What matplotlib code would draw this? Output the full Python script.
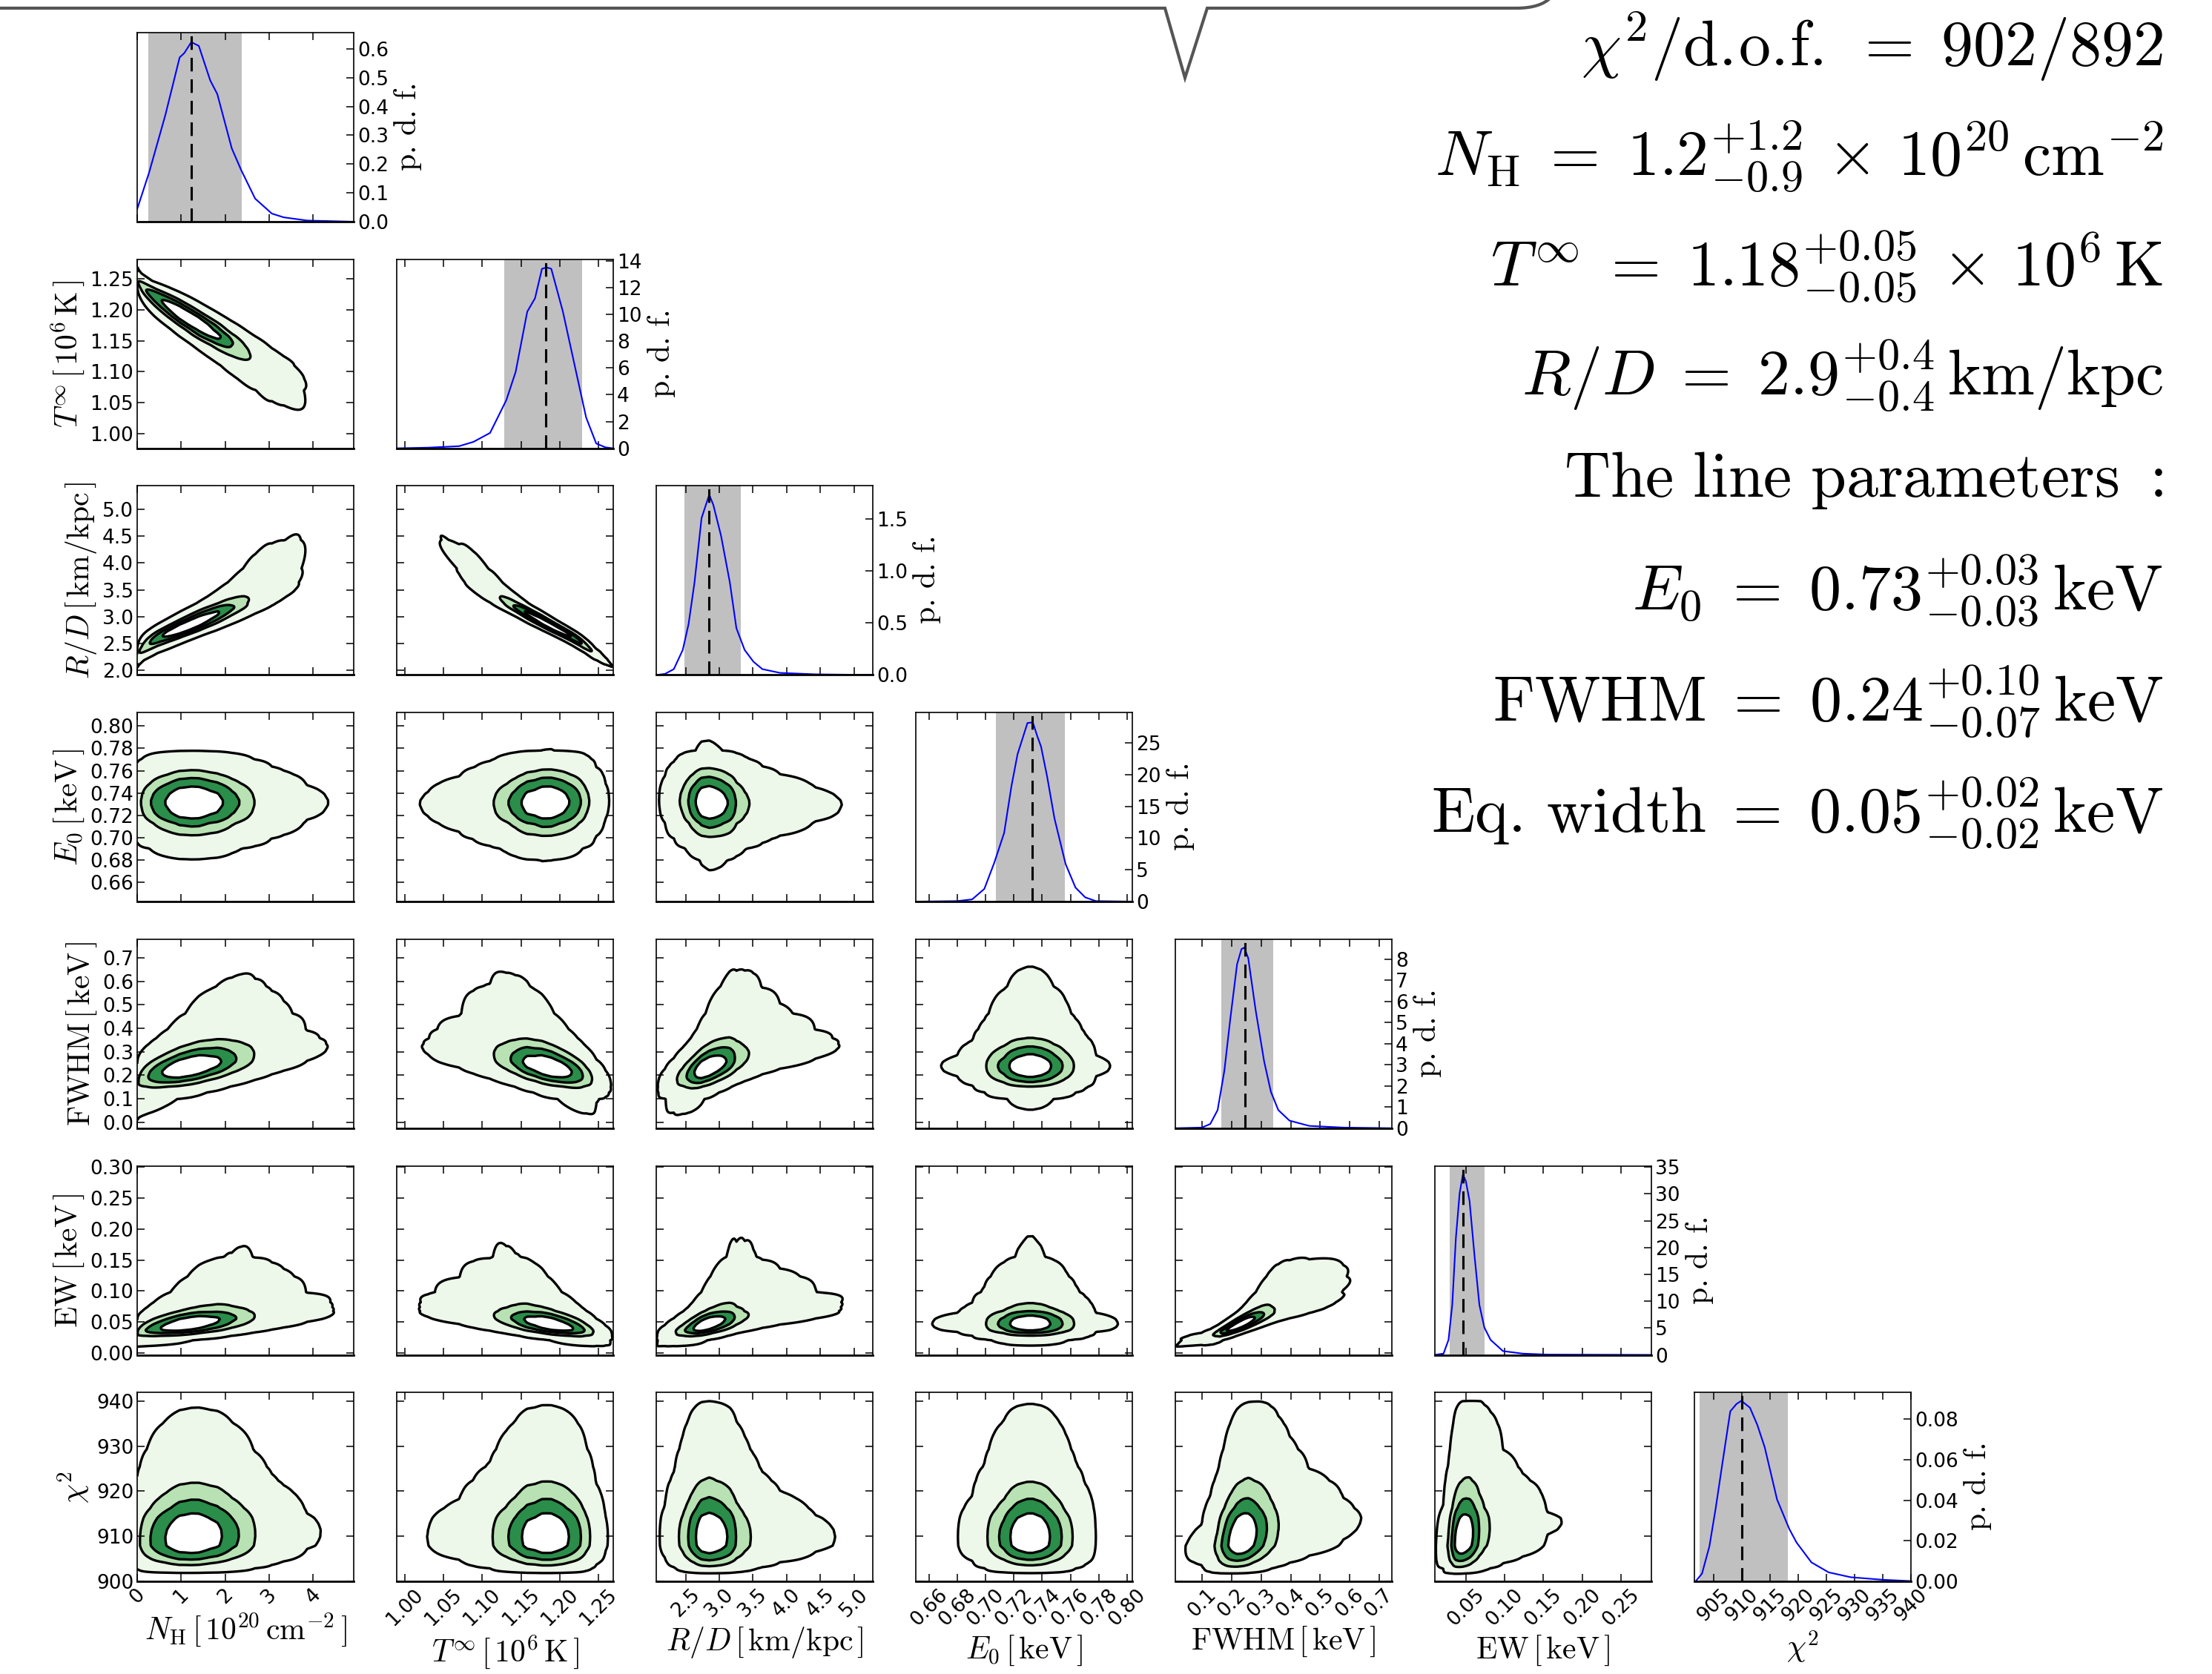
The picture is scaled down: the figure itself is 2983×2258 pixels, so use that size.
import numpy as np
import matplotlib
matplotlib.use('Agg')
import matplotlib.pyplot as plt
from matplotlib.path import Path
from matplotlib.patches import PathPatch

plt.rcParams['mathtext.fontset'] = 'cm'
plt.rcParams['font.family'] = 'DejaVu Sans'
plt.rcParams['xtick.direction'] = 'in'
plt.rcParams['ytick.direction'] = 'in'
plt.rcParams['xtick.major.size'] = 7
plt.rcParams['ytick.major.size'] = 7
plt.rcParams['xtick.major.width'] = 1.1
plt.rcParams['ytick.major.width'] = 1.1
plt.rcParams['xtick.labelsize'] = 19
plt.rcParams['ytick.labelsize'] = 19
plt.rcParams['axes.linewidth'] = 1.2

# ---- marginal posteriors ----
nh_x = [0.0, 0.27, 0.64, 0.965, 1.07, 1.23, 1.40, 1.66, 1.82, 2.15, 2.36, 2.68, 3.06, 3.33, 3.86, 4.9]
nh_pdf = [0.044, 0.17, 0.37, 0.57, 0.585, 0.623, 0.61, 0.49, 0.443, 0.254, 0.18, 0.08, 0.028, 0.015, 0.004, 0.0]

t_x = [0.9895, 1.030, 1.070, 1.0885, 1.110, 1.119, 1.131, 1.143, 1.158, 1.168, 1.177, 1.183,
       1.189, 1.204, 1.222, 1.234, 1.247, 1.259, 1.269]
t_pdf = [0.0, 0.05, 0.16, 0.48, 1.15, 2.2, 3.6, 5.7, 10.2, 11.2, 13.4, 13.5, 13.4, 10.2, 5.45,
         2.3, 0.36, 0.07, 0.0]

rd_x = [2.064, 2.193, 2.325, 2.457, 2.544, 2.632, 2.737, 2.851, 2.912, 3.026, 3.157, 3.254,
        3.377, 3.508, 3.64, 3.90, 4.43, 5.28]
rd_pdf = [0.0, 0.01, 0.056, 0.24, 0.49, 0.89, 1.51, 1.734, 1.635, 1.34, 0.89, 0.45, 0.24,
          0.127, 0.056, 0.02, 0.006, 0.0]

e0_x = [0.6506, 0.68, 0.6905, 0.6991, 0.7061, 0.7131, 0.7183, 0.7226, 0.7296, 0.7334, 0.7366,
        0.7392, 0.7435, 0.7487, 0.7566, 0.7636, 0.7705, 0.778, 0.8038]
e0_pdf = [0.0, 0.08, 0.35, 2.0, 6.1, 10.8, 18.2, 23.2, 28.1, 28.2, 26.0, 24.4, 19.7, 13.1, 5.9,
          2.2, 0.66, 0.08, 0.0]

fw_x = [0.0084, 0.0985, 0.127, 0.152, 0.175, 0.195, 0.218, 0.233, 0.2425, 0.256, 0.281, 0.31,
        0.333, 0.358, 0.396, 0.463, 0.579, 0.744]
fw_pdf = [0.0, 0.03, 0.2, 0.86, 2.73, 5.17, 7.76, 8.48, 8.55, 8.05, 5.6, 3.16, 1.72, 0.86,
          0.36, 0.11, 0.03, 0.0]

ew_x = [0.0101, 0.0213, 0.0277, 0.0325, 0.0372, 0.042, 0.0462, 0.05, 0.0548, 0.0612, 0.0675,
        0.0739, 0.0819, 0.0979, 0.1234, 0.155, 0.289]
ew_pdf = [0.0, 0.23, 2.8, 9.3, 21.8, 30.1, 33.6, 32.4, 28.7, 18.5, 9.3, 5.1, 2.8, 0.7, 0.23,
          0.05, 0.0]

chi_x = [901.6, 901.86, 902.95, 904.26, 905.35, 906.66, 907.96, 909.05, 909.93, 911.45, 912.76,
         914.07, 916.25, 918.43, 919.73, 922.35, 925.4, 929.3, 935.0, 940.0]
chi_pdf = [0.0, 0.0002, 0.0039, 0.0173, 0.0356, 0.0599, 0.0837, 0.0873, 0.0889, 0.0855, 0.077,
           0.066, 0.0404, 0.0258, 0.0191, 0.0094, 0.0045, 0.0021, 0.00085, 0.0002]

pdf_x = [nh_x, t_x, rd_x, e0_x, fw_x, ew_x, chi_x]
pdf_y = [nh_pdf, t_pdf, rd_pdf, e0_pdf, fw_pdf, ew_pdf, chi_pdf]

medians = [1.23, 1.1816, 2.85, 0.7328, 0.244, 0.0468, 910.0]
band_lo = [0.25, 1.128, 2.482, 0.7075, 0.164, 0.0293, 902.5]
band_hi = [2.37, 1.2285, 3.315, 0.756, 0.34, 0.0746, 918.2]

# pairwise correlations (lower triangle, row i vs column j)
corr = [
    [],
    [-0.93],
    [0.93, -0.98],
    [0.0, 0.03, -0.05],
    [0.55, -0.55, 0.6, 0.0],
    [0.55, -0.6, 0.65, 0.0, 0.9],
    [0.05, 0.0, 0.0, 0.0, 0.25, 0.2],
]
mass_levels = [0.995, 0.865, 0.675, 0.39]

# ---- axis ranges and ticks ----
col_lims = [(0.0, 4.92), (0.9895, 1.269), (2.064, 5.28), (0.6506, 0.8038),
            (0.0084, 0.7437), (0.0101, 0.2893), (901.6, 940.0)]
row_lims = [None, (0.976, 1.282), (1.918, 5.436), (0.643, 0.812),
            (-0.026, 0.78), (-0.003, 0.302), (900.0, 941.9)]
pdf_lims = [0.656, 14.11, 1.819, 29.75, 8.95, 35.23, 0.093]

x_ticks = [[0, 1, 2, 3, 4],
           [1.00, 1.05, 1.10, 1.15, 1.20, 1.25],
           [2.5, 3.0, 3.5, 4.0, 4.5, 5.0],
           [0.66, 0.68, 0.70, 0.72, 0.74, 0.76, 0.78, 0.80],
           [0.1, 0.2, 0.3, 0.4, 0.5, 0.6, 0.7],
           [0.05, 0.10, 0.15, 0.20, 0.25],
           [905, 910, 915, 920, 925, 930, 935, 940]]
x_ticklabels = [['0', '1', '2', '3', '4'],
                ['1.00', '1.05', '1.10', '1.15', '1.20', '1.25'],
                ['2.5', '3.0', '3.5', '4.0', '4.5', '5.0'],
                ['0.66', '0.68', '0.70', '0.72', '0.74', '0.76', '0.78', '0.80'],
                ['0.1', '0.2', '0.3', '0.4', '0.5', '0.6', '0.7'],
                ['0.05', '0.10', '0.15', '0.20', '0.25'],
                ['905', '910', '915', '920', '925', '930', '935', '940']]
y_ticks = [None,
           [1.00, 1.05, 1.10, 1.15, 1.20, 1.25],
           [2.0, 2.5, 3.0, 3.5, 4.0, 4.5, 5.0],
           [0.66, 0.68, 0.70, 0.72, 0.74, 0.76, 0.78, 0.80],
           [0.0, 0.1, 0.2, 0.3, 0.4, 0.5, 0.6, 0.7],
           [0.00, 0.05, 0.10, 0.15, 0.20, 0.25, 0.30],
           [900, 910, 920, 930, 940]]
y_ticklabels = [None,
                ['1.00', '1.05', '1.10', '1.15', '1.20', '1.25'],
                ['2.0', '2.5', '3.0', '3.5', '4.0', '4.5', '5.0'],
                ['0.66', '0.68', '0.70', '0.72', '0.74', '0.76', '0.78', '0.80'],
                ['0.0', '0.1', '0.2', '0.3', '0.4', '0.5', '0.6', '0.7'],
                ['0.00', '0.05', '0.10', '0.15', '0.20', '0.25', '0.30'],
                ['900', '910', '920', '930', '940']]
pdf_ticks = [[0.0, 0.1, 0.2, 0.3, 0.4, 0.5, 0.6],
             [0, 2, 4, 6, 8, 10, 12, 14],
             [0.0, 0.5, 1.0, 1.5],
             [0, 5, 10, 15, 20, 25],
             [0, 1, 2, 3, 4, 5, 6, 7, 8],
             [0, 5, 10, 15, 20, 25, 30, 35],
             [0.00, 0.02, 0.04, 0.06, 0.08]]
pdf_ticklabels = [['0.0', '0.1', '0.2', '0.3', '0.4', '0.5', '0.6'],
                  ['0', '2', '4', '6', '8', '10', '12', '14'],
                  ['0.0', '0.5', '1.0', '1.5'],
                  ['0', '5', '10', '15', '20', '25'],
                  ['0', '1', '2', '3', '4', '5', '6', '7', '8'],
                  ['0', '5', '10', '15', '20', '25', '30', '35'],
                  ['0.00', '0.02', '0.04', '0.06', '0.08']]

labels = [r'$N_{\rm H}\,[\,10^{20}\,{\rm cm}^{-2}\,]$',
          r'$T^{\infty}\,[\,10^{6}\,{\rm K}\,]$',
          r'$R/D\,[\,{\rm km/kpc}\,]$',
          r'$E_0\,[\,{\rm keV}\,]$',
          r'${\rm FWHM}\,[\,{\rm keV}\,]$',
          r'${\rm EW}\,[\,{\rm keV}\,]$',
          r'$\chi^2$']

summary = [r'$\chi^2/{\rm d.\!o.\!f.}\;=\;902/892$',
           r'$N_{\rm H}\;=\;1.2^{+1.2}_{-0.9}\,\times\,10^{20}\,{\rm cm}^{-2}$',
           r'$T^{\infty}\;=\;1.18^{+0.05}_{-0.05}\,\times\,10^{6}\,{\rm K}$',
           r'$R/D\;=\;2.9^{+0.4}_{-0.4}\,{\rm km/kpc}$',
           r'${\rm The\ line\ parameters\ :}$',
           r'$E_0\;=\;0.73^{+0.03}_{-0.03}\,{\rm keV}$',
           r'${\rm FWHM}\;=\;0.24^{+0.10}_{-0.07}\,{\rm keV}$',
           r'${\rm Eq.\,width}\;=\;0.05^{+0.02}_{-0.02}\,{\rm keV}$']
summary_base = [89, 237, 386, 533, 670, 823, 973, 1123]

greens = ['#edf7ea', '#b8e2b3', '#2a8d4a', 'white']

W, H = 2983, 2258
fig = plt.figure(figsize=(W / 100, H / 100), dpi=100)
n = 7


def axes_at(row, col):
    left = 185 + 350 * col
    top = 44 + 305.7 * row
    return fig.add_axes([left / W, 1 - (top + 255) / H, 292 / W, 255 / H])


# normal scores of each marginal (for building the 2D densities)
zt = np.linspace(-6, 6, 6001)
phi = np.exp(-zt ** 2 / 2)
Phi = (np.cumsum(phi) - 0.5 * phi) / phi.sum()
grids, dens, zsc = [], [], []
for k in range(n):
    lo = min(pdf_x[k][0], col_lims[k][0], row_lims[k][0] if row_lims[k] else np.inf)
    hi = max(pdf_x[k][-1], col_lims[k][1], row_lims[k][1] if row_lims[k] else -np.inf)
    g = np.linspace(lo, hi, 3000)
    f = np.interp(g, pdf_x[k], pdf_y[k], left=0, right=0)
    c = (np.cumsum(f) - 0.5 * f) / f.sum()
    c = np.clip(c, 1e-7, 1 - 1e-7)
    grids.append(g)
    dens.append(f)
    zsc.append(np.interp(c, Phi, zt))

for i in range(n):
    for j in range(i + 1):
        ax = axes_at(i, j)
        ax.set_xlim(*col_lims[j])
        ax.set_xticks(x_ticks[j])
        if i == n - 1:
            ax.set_xticklabels(x_ticklabels[j], rotation=45)
            ax.set_xlabel(labels[j], fontsize=30)
        else:
            ax.set_xticklabels([])
        ax.spines['bottom'].set_linewidth(2.0)

        if i == j:
            ax.fill_betweenx([0, pdf_lims[i]], band_lo[i], band_hi[i], color='silver', lw=0)
            ax.plot(pdf_x[i], pdf_y[i], color='blue', lw=1.5)
            ax.axvline(medians[i], color='k', lw=2.2, ls=(0, (6, 3.5)))
            ax.set_ylim(0, pdf_lims[i])
            ax.yaxis.tick_right()
            ax.set_yticks(pdf_ticks[i])
            ax.set_yticklabels(pdf_ticklabels[i])
            ax.tick_params(axis='x', top=True, bottom=True)
            ax.tick_params(axis='y', left=False, right=True)
            ax.yaxis.set_label_position('right')
            ax.set_ylabel(r'$\mathrm{p.\,d.\,f.}$', fontsize=30)
            continue

        xs = np.linspace(*col_lims[j], 260)
        ys = np.linspace(*row_lims[i], 260)
        fx = np.interp(xs, grids[j], dens[j])
        fy = np.interp(ys, grids[i], dens[i])
        zx = np.interp(xs, grids[j], zsc[j])
        zy = np.interp(ys, grids[i], zsc[i])
        r = corr[i][j]
        Zx, Zy = np.meshgrid(zx, zy)
        D = np.outer(fy, fx) * np.exp(-(r * r * (Zx ** 2 + Zy ** 2) - 2 * r * Zx * Zy)
                                      / (2 * (1 - r * r))) / np.sqrt(1 - r * r)
        flat = np.sort(D.ravel())[::-1]
        cum = np.cumsum(flat)
        cum /= cum[-1]
        lev = [flat[np.searchsorted(cum, p)] for p in mass_levels]
        ax.contourf(xs, ys, D, levels=lev + [D.max() * 1.01], colors=greens)
        ax.contour(xs, ys, D, levels=lev, colors='k', linewidths=2.4)

        ax.set_ylim(*row_lims[i])
        ax.set_yticks(y_ticks[i])
        if j == 0:
            ax.set_yticklabels(y_ticklabels[i])
            ax.set_ylabel(labels[i], fontsize=30)
        else:
            ax.set_yticklabels([])
        ax.tick_params(top=True, right=True)

# results summary on the right
for txt, yb in zip(summary, summary_base):
    fig.text(2917 / W, 1 - yb / H, txt, ha='right', va='baseline', fontsize=62)

# speech-bubble outline along the top edge
verts = [(0, 11), (1571, 11), (1598, 105), (1628, 11), (2045, 11), (2078, 11), (2092, -4)]
codes = [Path.MOVETO, Path.LINETO, Path.LINETO, Path.LINETO, Path.LINETO, Path.CURVE3, Path.CURVE3]
verts = [(x / W, 1 - y / H) for x, y in verts]
fig.add_artist(PathPatch(Path(verts, codes), transform=fig.transFigure, fill=False,
                         edgecolor='#555555', lw=3, clip_on=False))

fig.savefig('out.png', dpi=100)
